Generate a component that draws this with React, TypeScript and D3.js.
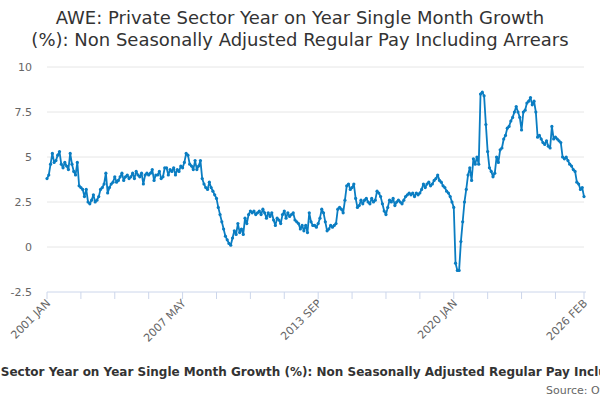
import React, { useRef, useEffect } from 'react';
import * as d3 from 'd3';

// monthly values, 2001 JAN .. 2026 FEB
const y2001 = [3.8, 4.0, 4.6, 5.2, 4.7, 4.8, 5.1, 5.3, 4.6, 4.4, 4.7, 4.5];
const y2002 = [4.3, 5.2, 4.6, 4.2, 4.0, 4.7, 3.4, 3.3, 3.2, 2.8, 3.2, 2.5];
const y2003 = [2.4, 2.6, 2.9, 2.5, 2.6, 2.8, 3.2, 3.3, 3.5, 4.1, 3.0, 3.3];
const y2004 = [3.5, 3.6, 3.9, 3.6, 3.7, 3.9, 4.1, 3.7, 3.9, 4.0, 3.8, 3.9];
const y2005 = [4.1, 3.8, 4.2, 4.0, 3.9, 4.1, 3.5, 4.0, 4.1, 4.0, 4.1, 4.3];
const y2006 = [3.7, 4.0, 4.0, 4.2, 3.8, 3.9, 4.4, 4.4, 4.0, 4.3, 4.2, 4.4];
const y2007 = [4.0, 4.3, 4.2, 4.5, 4.4, 4.7, 5.2, 5.1, 4.6, 4.5, 4.3, 4.8];
const y2008 = [4.3, 4.5, 4.8, 3.8, 3.5, 3.3, 3.2, 3.6, 3.3, 3.1, 2.9, 2.7];
const y2009 = [2.2, 1.8, 1.4, 1.0, 0.6, 0.4, 0.2, 0.1, 0.5, 0.9, 0.7, 1.3];
const y2010 = [0.8, 1.0, 0.7, 1.6, 1.3, 1.8, 2.0, 1.9, 2.0, 1.8, 1.9, 2.0];
const y2011 = [1.8, 2.1, 1.9, 1.6, 1.9, 1.7, 1.9, 1.5, 1.2, 1.6, 1.5, 1.3];
const y2012 = [1.8, 2.0, 1.6, 1.9, 1.7, 1.8, 1.9, 1.5, 1.4, 1.3, 1.0, 1.2];
const y2013 = [0.9, 1.2, 0.8, 1.9, 1.4, 1.2, 1.2, 1.1, 1.3, 1.6, 2.1, 1.9];
const y2014 = [1.4, 0.9, 1.0, 1.2, 1.1, 1.2, 1.3, 2.1, 2.2, 2.1, 1.9, 2.6];
const y2015 = [3.4, 3.5, 3.2, 3.3, 3.5, 2.7, 2.2, 2.3, 2.6, 2.4, 2.6, 2.7];
const y2016 = [2.5, 2.4, 2.7, 2.5, 2.6, 3.1, 3.0, 2.8, 2.4, 2.0, 1.8, 2.2];
const y2017 = [2.6, 2.5, 2.7, 2.3, 2.5, 2.6, 2.5, 2.4, 2.6, 2.8, 2.9, 3.0];
const y2018 = [2.9, 3.0, 2.8, 3.0, 2.9, 3.0, 3.2, 3.5, 3.3, 3.5, 3.6, 3.4];
const y2019 = [3.5, 3.7, 3.8, 4.0, 3.7, 3.6, 3.4, 3.3, 3.1, 3.0, 2.8, 2.5];
const y2020 = [2.2, -0.9, -1.3, -1.3, 0.3, 1.4, 2.5, 3.2, 4.0, 4.4, 3.7, 4.9];
const y2021 = [4.6, 5.0, 4.6, 8.5, 8.6, 8.4, 6.8, 5.3, 4.4, 4.2, 3.9, 4.1];
const y2022 = [5.0, 4.7, 5.4, 5.5, 6.0, 6.2, 6.6, 6.7, 7.0, 7.2, 7.5, 7.8];
const y2023 = [7.5, 7.2, 6.5, 7.5, 7.6, 8.0, 8.1, 8.3, 7.9, 8.1, 7.5, 6.1];
const y2024 = [6.2, 6.0, 5.8, 5.7, 5.9, 5.6, 5.5, 6.7, 6.0, 6.1, 6.0, 5.9];
const y2025 = [5.8, 5.0, 4.9, 5.0, 4.8, 4.6, 4.5, 4.3, 4.2, 3.6, 3.5, 3.2];
const y2026 = [3.3, 2.8];

const values = [
  ...y2001, ...y2002, ...y2003, ...y2004, ...y2005, ...y2006, ...y2007, ...y2008,
  ...y2009, ...y2010, ...y2011, ...y2012, ...y2013, ...y2014, ...y2015, ...y2016,
  ...y2017, ...y2018, ...y2019, ...y2020, ...y2021, ...y2022, ...y2023, ...y2024,
  ...y2025, ...y2026,
];
const monthNames = ['JAN', 'FEB', 'MAR', 'APR', 'MAY', 'JUN', 'JUL', 'AUG', 'SEP', 'OCT', 'NOV', 'DEC'];
const labels = values.map((_, i) => `${2001 + Math.floor(i / 12)} ${monthNames[i % 12]}`);
const yTicks = [-2.5, 0, 2.5, 5, 7.5, 10];
const labelIdx = [0, 76, 152, 228, values.length - 1];

const App: React.FC = () => {
  const svgRef = useRef<SVGSVGElement>(null);

  useEffect(() => {
    if (!svgRef.current) return;
    const svg = d3.select(svgRef.current);
    svg.selectAll('*').remove();
    const font = '"DejaVu Sans", Verdana, sans-serif';
    const left = 47, right = 584, top = 67, bottom = 292;

    const x = d3.scaleLinear().domain([0, values.length - 1]).range([left, right]);
    const y = d3.scaleLinear().domain([-2.5, 10]).range([bottom, top]);

    // title
    const title = svg.append('text').attr('text-anchor', 'middle').attr('font-family', font)
      .attr('font-size', 18).attr('fill', '#333');
    title.append('tspan').attr('x', 300).attr('y', 24).text('AWE: Private Sector Year on Year Single Month Growth');
    title.append('tspan').attr('x', 300).attr('y', 46).text('(%): Non Seasonally Adjusted Regular Pay Including Arrears');

    // grid + y labels
    svg.append('g').selectAll('line').data(yTicks.filter(t => t !== -2.5)).enter().append('line')
      .attr('x1', left).attr('x2', right).attr('y1', d => y(d)).attr('y2', d => y(d))
      .attr('stroke', '#e6e6e6');
    svg.append('g').selectAll('text').data(yTicks).enter().append('text')
      .attr('x', 32).attr('y', d => y(d) + 4).attr('text-anchor', 'end')
      .attr('font-family', font).attr('font-size', 11).attr('fill', '#666')
      .text(d => String(d));

    // x axis
    svg.append('line').attr('x1', left).attr('x2', right + 2).attr('y1', bottom).attr('y2', bottom)
      .attr('stroke', '#ccd6eb');
    const ticks = d3.range(0, values.length, 19).concat([values.length - 1]);
    svg.append('g').selectAll('line').data(ticks).enter().append('line')
      .attr('x1', d => x(d)).attr('x2', d => x(d)).attr('y1', bottom).attr('y2', bottom + 7)
      .attr('stroke', '#ccd6eb');
    svg.append('g').selectAll('text').data(labelIdx).enter().append('text')
      .attr('transform', d => `translate(${x(d) + 4},${bottom + 12}) rotate(-45)`)
      .attr('text-anchor', 'end').attr('font-family', font).attr('font-size', 11).attr('fill', '#666')
      .text(d => labels[d]);

    // series
    const line = d3.line<number>().x((_, i) => x(i)).y(d => y(d));
    svg.append('path').datum(values).attr('d', line).attr('fill', 'none')
      .attr('stroke', '#0a7dc2').attr('stroke-width', 1.8).attr('stroke-linejoin', 'round');
    svg.append('g').selectAll('circle').data(values).enter().append('circle')
      .attr('cx', (_, i) => x(i)).attr('cy', d => y(d)).attr('r', 1.6).attr('fill', '#0a7dc2');

    // footer (overflows the frame in the reference too)
    svg.append('text').attr('x', 300).attr('y', 376).attr('text-anchor', 'middle')
      .attr('font-family', font).attr('font-size', 12).attr('font-weight', 'bold').attr('fill', '#333')
      .text('AWE: Private Sector Year on Year Single Month Growth (%): Non Seasonally Adjusted Regular Pay Including Arrears');
    svg.append('text').attr('x', 546).attr('y', 394).attr('font-family', font)
      .attr('font-size', 11).attr('fill', '#666').text('Source: Office for National Statistics');
  }, []);

  return (
    <svg ref={svgRef} width={600} height={400}
      style={{ position: 'absolute', left: 0, top: 0, background: '#fff', overflow: 'hidden' }} />
  );
};

export default App;
